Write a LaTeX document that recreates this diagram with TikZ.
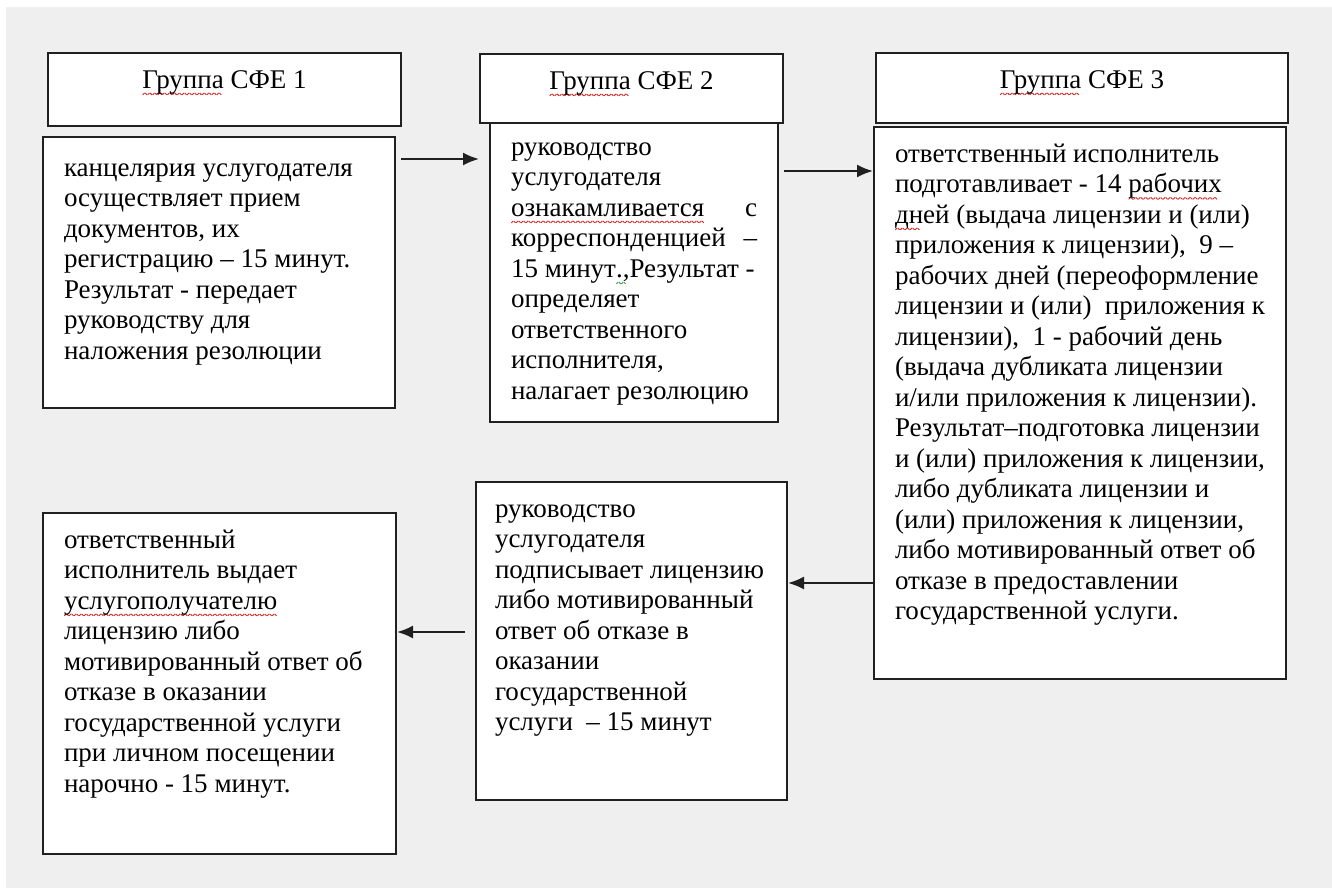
\documentclass[tikz,border=0pt]{standalone}
\usepackage{fontspec}
\setmainfont{Liberation Serif}
\usetikzlibrary{arrows.meta}

\definecolor{bggray}{RGB}{239,239,239}
\definecolor{framegray}{RGB}{32,32,32}
\definecolor{waveRed}{RGB}{215,35,35}
\definecolor{waveGreen}{RGB}{50,160,70}

\newsavebox{\redwavebox}
\newsavebox{\greenwavebox}
\newcommand{\zigzag}[1]{\color{#1}\rotatebox{45}{\rule{1.3pt}{0.45pt}}\raisebox{0.92pt}{\rotatebox{-45}{\rule{1.3pt}{0.45pt}}}}
\newcommand{\wavedword}[2]{\setbox0\hbox{#2}\rlap{\raisebox{-3.4pt}{\hbox to\wd0{\leaders\copy#1\hfill}}}#2}
\newcommand{\redwave}[1]{\wavedword{\redwavebox}{#1}}
\newcommand{\greenwave}[1]{\wavedword{\greenwavebox}{#1}}

\newcommand{\cell}[3]{\parbox[t][#2][t]{#1}{\strut#3}}

\begin{document}
\sbox{\redwavebox}{\zigzag{waveRed}}
\sbox{\greenwavebox}{\zigzag{waveGreen}}
\begin{tikzpicture}[
  x=0.5pt,
  y=-0.5pt,
  cell/.style={
    rectangle,
    draw=framegray,
    line width=1pt,
    fill=white,
    text=black,
    anchor=north west,
    inner xsep=10.5pt,
    inner ysep=7pt,
    font=\fontsize{13.5}{15.25}\selectfont
  },
  arrow/.style={
    ->,
    line width=1pt,
    draw=framegray,
    >={Latex[length=8pt,width=6.5pt]}
  }
]

% Background
\fill[white] (0,0) rectangle (1332,888);
\fill[bggray] (6,7) rectangle (1332,888);

% Group headers
\node[cell] (grp1) at (47,52) {\cell{155.5pt}{22.5pt}{\centering\redwave{Группа} СФЕ 1}};
\node[cell] (grp3) at (875,52) {\cell{185pt}{21pt}{\centering\redwave{Группа} СФЕ 3}};

% Step boxes, top row
\node[cell, inner ysep=9pt] (stage1) at (42,136) {\cell{155pt}{117.5pt}{%
канцелярия услугодателя\\
осуществляет прием\\
документов, их\\
регистрацию – 15 минут.\\
Результат - передает\\
руководству для\\
наложения резолюции}};

\node[cell, inner ysep=6pt] (stage2) at (489,121) {\cell{123pt}{138pt}{%
руководство\\
услугодателя\\
\redwave{ознакамливается}\hfill с\\
корреспонденцией\hfill –\\
15 минут\greenwave{.,}Результат -\\
определяет\\
ответственного\\
исполнителя,\\
налагает резолюцию}};
\node[cell] (grp2) at (479,53) {\cell{130.5pt}{20.5pt}{\centering\redwave{Группа} СФЕ 2}};

\node[cell] (stage3) at (873,126) {\cell{185pt}{262pt}{%
ответственный исполнитель\\
подготавливает - 14 \redwave{рабочих}\\
\redwave{дн}ей (выдача лицензии и (или)\\
приложения к лицензии), \ 9 –\\
рабочих дней (переоформление\\
лицензии и (или) \ приложения к\\
лицензии), \ 1 - рабочий день\\
(выдача дубликата лицензии\\
и/или приложения к лицензии).\\
Результат–подготовка лицензии\\
и (или) приложения к лицензии,\\
либо дубликата лицензии и\\
(или) приложения к лицензии,\\
либо мотивированный ответ об\\
отказе в предоставлении\\
государственной услуги.}};

% Step boxes, bottom row
\node[cell, inner xsep=9.5pt] (stage4) at (475,481) {\cell{136.5pt}{145pt}{%
руководство\\
услугодателя\\
подписывает лицензию\\
либо мотивированный\\
ответ об отказе в\\
оказании\\
государственной\\
услуги \ – 15 минут}};

\node[cell] (stage5) at (42,512) {\cell{155.5pt}{156.5pt}{%
ответственный\\
исполнитель выдает\\
\redwave{услугополучателю}\\
лицензию либо\\
мотивированный ответ об\\
отказе в оказании\\
государственной услуги\\
при личном посещении\\
нарочно - 15 минут.}};

% Arrows
\draw[arrow, shorten <=2.5pt, shorten >=5pt] ([yshift=-11.5pt]stage1.north east) -- ([yshift=-19pt]stage2.north west);
\draw[arrow, shorten <=2.5pt] ([yshift=-25pt]stage2.north east) -- ([yshift=-22.5pt]stage3.north west);
\draw[arrow] ([yshift=-228.5pt]stage3.north west) -- ([yshift=-51pt]stage4.north east);
\draw[arrow, shorten <=5pt] ([yshift=-75.5pt]stage4.north west) -- ([yshift=-60pt]stage5.north east);

\end{tikzpicture}
\end{document}
